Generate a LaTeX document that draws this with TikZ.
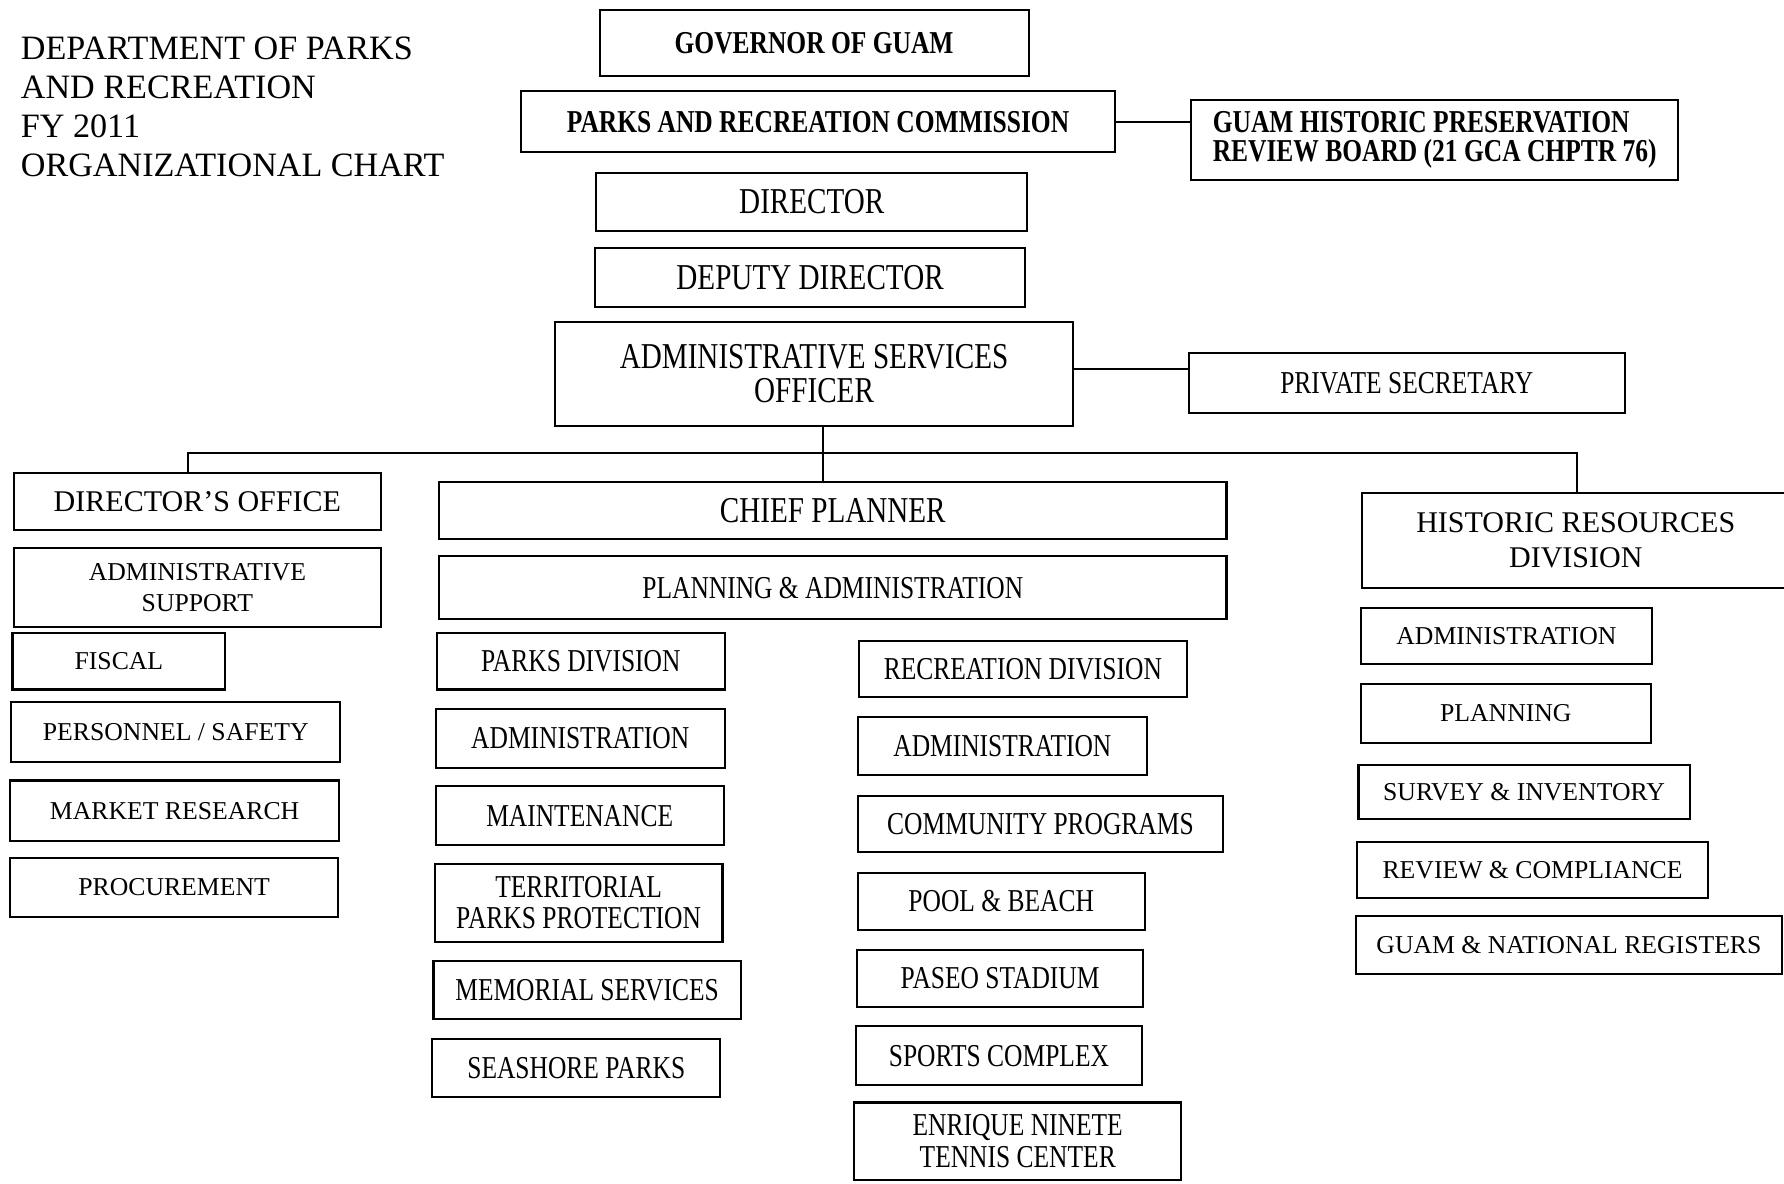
\documentclass[tikz,border=0pt]{standalone}
\usepackage{fontspec}
\setmainfont{Liberation Serif}
\newfontfamily\narrowrm[FakeStretch=0.8]{Liberation Serif}

\tikzset{
  box/.style={draw, line width=0.9pt, inner sep=0pt, align=center},
  wh/.style 2 args={minimum width=#1*0.5pt, minimum height=#2*0.5pt},
  topbox/.style={box, font=\narrowrm\bfseries\fontsize{14}{13}\selectfont},
  headbox/.style={box, font=\narrowrm\fontsize{16}{15}\selectfont},
  midbox/.style={box, font=\narrowrm\fontsize{14}{14}\selectfont},
  bigbox/.style={box, font=\fontsize{13.2}{15.5}\selectfont},
  smallbox/.style={box, font=\fontsize{11.3}{13.5}\selectfont}
}

\begin{document}
\begin{tikzpicture}[x=0.5pt, y=-0.5pt]
    \useasboundingbox (0,0) rectangle (1568,1040);
    \clip (0,0) rectangle (1568,1040);

    % Titolo (base = ultima riga)
    \node[anchor=base west, align=left, inner sep=0pt, font=\fontsize{15}{17.25}\selectfont] (title) at (18,155.5)
        {DEPARTMENT OF PARKS\\AND RECREATION\\FY 2011\\ORGANIZATIONAL CHART};

    % Vertice
    \node[topbox, wh={377}{58}] (gov) at (715.5,38) {GOVERNOR OF GUAM};
    \node[topbox, wh={522}{54}] (prc) at (719,107) {PARKS AND RECREATION COMMISSION};
    \node[topbox, wh={428}{70}, align=left] (ghprb) at (1261,123) {GUAM HISTORIC PRESERVATION\\REVIEW BOARD (21 GCA CHPTR 76)};
    \node[headbox, wh={379}{51}] (dir) at (713.5,177.5) {DIRECTOR};
    \node[headbox, wh={378}{52}] (dep) at (712,244) {DEPUTY DIRECTOR};
    \node[headbox, wh={455}{91}] (aso) at (715.5,328.5) {ADMINISTRATIVE SERVICES\\OFFICER};
    \node[midbox, wh={383}{53}] (ps) at (1236.5,336.5) {PRIVATE SECRETARY};

    % Collegamenti in alto
    \draw[line width=0.9pt] (prc.east) -- (prc.east -| ghprb.west);
    \draw[line width=0.9pt] ([yshift=2pt]aso.east) -- ([yshift=2pt]aso.east -| ps.west);

    % Director's office
    \node[bigbox, wh={323}{50}] (diroff) at (173.5,441) {DIRECTOR'S OFFICE};
    \node[smallbox, wh={323}{69}] (admsup) at (173.5,516.5) {ADMINISTRATIVE\\SUPPORT};
    \node[smallbox, wh={187}{50}] (fiscal) at (104.5,581) {FISCAL};
    \node[smallbox, wh={289}{53}] (pers) at (154.5,643.5) {PERSONNEL / SAFETY};
    \node[smallbox, wh={289}{53}] (market) at (153.5,712.5) {MARKET RESEARCH};
    \node[smallbox, wh={288}{52}] (procure) at (153,780) {PROCUREMENT};

    % Chief planner
    \node[headbox, wh={692}{50}] (chief) at (732,449) {CHIEF PLANNER};
    \node[midbox, wh={692}{55}] (plan) at (732,516.5) {PLANNING \& ADMINISTRATION};

    % Parks division
    \node[midbox, wh={253}{50}] (parks) at (510.5,581) {PARKS DIVISION};
    \node[midbox, wh={254}{52}] (padm) at (510,649) {ADMINISTRATION};
    \node[midbox, wh={253}{52}] (maint) at (509.5,717) {MAINTENANCE};
    \node[midbox, wh={253}{69}, font=\narrowrm\fontsize{14}{13.5}\selectfont] (terr) at (508.5,793.5) {TERRITORIAL\\PARKS PROTECTION};
    \node[midbox, wh={270}{51}] (memo) at (516,870.5) {MEMORIAL SERVICES};
    \node[midbox, wh={253}{51}] (sea) at (506.5,938.5) {SEASHORE PARKS};

    % Recreation division
    \node[midbox, wh={288}{50}] (rec) at (899,588) {RECREATION DIVISION};
    \node[midbox, wh={254}{51}] (radm) at (881,655.5) {ADMINISTRATION};
    \node[midbox, wh={321}{49}] (comm) at (914.5,724.5) {COMMUNITY PROGRAMS};
    \node[midbox, wh={252}{50}] (pool) at (880,792) {POOL \& BEACH};
    \node[midbox, wh={252}{50}] (paseo) at (879,860) {PASEO STADIUM};
    \node[midbox, wh={252}{52}] (sports) at (878,928) {SPORTS COMPLEX};
    \node[midbox, wh={287}{68}] (tennis) at (894.5,1003) {ENRIQUE NINETE\\TENNIS CENTER};

    % Historic resources division
    \node[bigbox, wh={376}{84}] (hrd) at (1385,475) {HISTORIC RESOURCES\\DIVISION};
    \node[smallbox, wh={256}{50}] (hadm) at (1324,559) {ADMINISTRATION};
    \node[smallbox, wh={255}{52}] (hplan) at (1323.5,627) {PLANNING};
    \node[smallbox, wh={291}{48}] (survey) at (1339.5,696) {SURVEY \& INVENTORY};
    \node[smallbox, wh={308}{49}] (review) at (1347,764.5) {REVIEW \& COMPLIANCE};
    \node[smallbox, wh={374}{51}] (reg) at (1379,830.5) {GUAM \& NATIONAL REGISTERS};

    % Linea di distribuzione
    \coordinate (busl) at (165,398);
    \coordinate (busc) at (723,398);
    \coordinate (busr) at (1386,398);
    \draw[line width=0.9pt] (busc |- aso.south) -- (busc |- chief.north);
    \draw[line width=0.9pt] (busl |- diroff.north) -- (busl) -- (busr) -- (busr |- hrd.north);
\end{tikzpicture}
\end{document}
